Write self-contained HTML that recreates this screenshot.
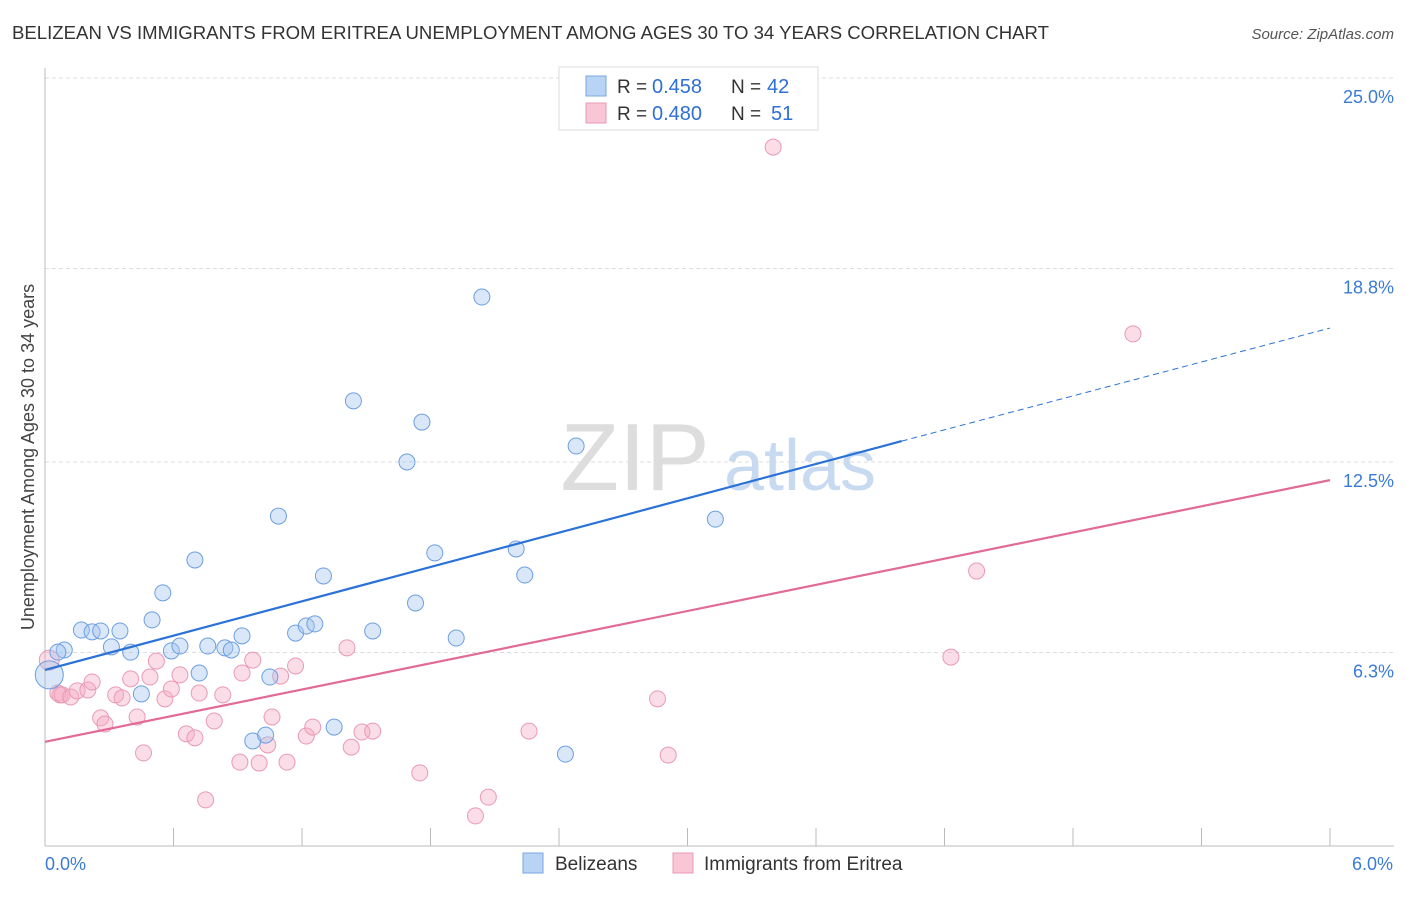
<!DOCTYPE html>
<html><head><meta charset="utf-8"><style>
body{margin:0;background:#fff;font-family:"Liberation Sans",sans-serif;}
svg text{font-family:"Liberation Sans",sans-serif;}
</style></head><body>
<svg id="chart" width="1406" height="892" viewBox="0 0 1406 892" xmlns="http://www.w3.org/2000/svg">
<text x="12" y="39" font-size="18" fill="#333" textLength="1037" lengthAdjust="spacingAndGlyphs">BELIZEAN VS IMMIGRANTS FROM ERITREA UNEMPLOYMENT AMONG AGES 30 TO 34 YEARS CORRELATION CHART</text>
<text x="1394" y="39" font-size="15" fill="#555" text-anchor="end" font-style="italic">Source: ZipAtlas.com</text>
<g id="grid"></g>
<g><text x="635" y="490" font-size="96" fill="#ddd" text-anchor="middle" font-family="Liberation Serif">ZIP</text><text x="800" y="490" font-size="72" fill="#c8daf0" text-anchor="middle">atlas</text></g>
<g id="axes"></g>
<g id="marks"></g>
<text transform="translate(34,457) rotate(-90)" font-size="18" fill="#444" text-anchor="middle">Unemployment Among Ages 30 to 34 years</text>
<g>
<rect x="559" y="67" width="259" height="63" fill="#fff" stroke="#ddd"/>
<rect x="586" y="76" width="20" height="20" fill="#b9d3f5" stroke="#7aa7e2"/>
<text x="617" y="93" font-size="19" fill="#333">R =</text><text x="652" y="93" font-size="20" fill="#2f6fd6">0.458</text>
<text x="731" y="93" font-size="19" fill="#333">N =</text><text x="767" y="93" font-size="20" fill="#2f6fd6">42</text>
<rect x="586" y="103" width="20" height="20" fill="#f8c6d5" stroke="#e99ab4"/>
<text x="617" y="120" font-size="19" fill="#333">R =</text><text x="652" y="120" font-size="20" fill="#2f6fd6">0.480</text>
<text x="731" y="120" font-size="19" fill="#333">N =</text><text x="771" y="120" font-size="20" fill="#2f6fd6">51</text>
</g>
<g>
<rect x="523" y="853" width="20" height="20" fill="#b9d3f5" stroke="#7aa7e2"/>
<text x="555" y="870" font-size="19" fill="#333">Belizeans</text>
<rect x="673" y="853" width="20" height="20" fill="#f8c6d5" stroke="#e99ab4"/>
<text x="704" y="870" font-size="19" fill="#333">Immigrants from Eritrea</text>
</g>
</svg>
<script>
const blueX=[0.02,0.09,0.06,0.17,0.22,0.26,0.35,0.31,0.40,0.45,0.50,0.55,0.59,0.63,0.70,0.72,0.76,0.84,0.87,0.92,0.97,1.03,1.05,1.09,1.17,1.22,1.26,1.30,1.35,1.44,1.53,1.69,1.73,1.76,1.82,1.92,2.04,2.20,2.24,2.43,2.48,3.13];
const blueY=[5.57,6.38,6.31,7.03,6.97,7.00,7.00,6.48,6.31,4.95,7.36,8.24,6.35,6.51,9.31,5.63,6.51,6.45,6.38,6.84,3.42,3.61,5.50,10.74,6.93,7.16,7.23,8.79,3.87,14.49,7.00,12.50,7.91,13.80,9.54,6.77,17.87,9.67,8.82,2.99,13.02,10.64];
const pinkX=[0.02,0.06,0.07,0.08,0.12,0.15,0.20,0.22,0.26,0.28,0.33,0.36,0.40,0.43,0.46,0.49,0.52,0.56,0.59,0.63,0.66,0.70,0.72,0.75,0.79,0.83,0.91,0.92,0.97,1.00,1.04,1.06,1.10,1.13,1.17,1.22,1.25,1.41,1.43,1.48,1.53,1.75,2.01,2.07,2.26,2.86,2.91,3.40,4.23,4.35,5.08];
const pinkY=[6.05,4.98,4.92,4.92,4.85,5.05,5.08,5.34,4.17,3.97,4.92,4.82,5.44,4.20,3.03,5.50,6.02,4.79,5.11,5.57,3.65,3.52,4.98,1.50,4.07,4.92,2.73,5.63,6.05,2.70,3.29,4.20,5.53,2.73,5.86,3.58,3.87,6.45,3.22,3.71,3.74,2.38,0.98,1.59,3.74,4.79,2.96,22.75,6.15,8.95,16.67];
const yTicks=[25.0,18.8,12.5,6.3];
const yTickLabels=["25.0%","18.8%","12.5%","6.3%"];
const blueLine=[5.73,13.18,16.86];
const pinkLine=[3.39,11.91];
const NS="http://www.w3.org/2000/svg";
const X=v=>45+v/6*1285, Y=v=>846-v/6.25*192;
function mk(tag,attrs,parent){const e=document.createElementNS(NS,tag);for(const k in attrs)e.setAttribute(k,attrs[k]);parent.appendChild(e);return e;}
const grid=document.getElementById('grid'),axes=document.getElementById('axes'),marks=document.getElementById('marks');
yTicks.forEach((t,i)=>{
 const l=mk('line',{x1:45,x2:1394,y1:Y(t),y2:Y(t),stroke:'#ddd','stroke-dasharray':'4,3'},grid);
 
 
 const tx=mk('text',{x:1394,y:Y(t)+25,'font-size':18,fill:'#3a7bd5','text-anchor':'end'},axes);
 tx.textContent=yTickLabels[i];
 
 
});
mk('line',{x1:45,x2:45,y1:68,y2:846,stroke:'#bbb'},axes);
mk('line',{x1:45,x2:1394,y1:846,y2:846,stroke:'#bbb'},axes);
for(let i=1;i<=10;i++){mk('line',{x1:X(i*0.6),x2:X(i*0.6),y1:828,y2:846,stroke:'#bbb'},axes);}
const xl=mk('text',{x:45,y:870,'font-size':18,fill:'#3a7bd5'},axes);xl.textContent='0.0%';


const xr=mk('text',{x:1393,y:870,'font-size':18,fill:'#3a7bd5','text-anchor':'end'},axes);xr.textContent='6.0%';


pinkX.forEach((v,i)=>{const c=mk('circle',{cx:X(v),cy:Y(pinkY[i]),r:i==0?10:8,fill:'rgba(244,170,195,0.4)',stroke:'#e99ab4','stroke-width':1},marks);
 
 });
blueX.forEach((v,i)=>{const c=mk('circle',{cx:X(v),cy:Y(blueY[i]),r:i==0?14:8,fill:'rgba(160,195,240,0.4)',stroke:'#6d9fe0','stroke-width':1},marks);
 
 });
const bl=mk('line',{x1:X(0),y1:Y(blueLine[0]),x2:X(4),y2:Y(blueLine[1]),stroke:'#2a72d8','stroke-width':2.2},marks);


const bd=mk('line',{x1:X(4),y1:Y(blueLine[1]),x2:X(6),y2:Y(blueLine[2]),stroke:'#2a72d8','stroke-width':1,'stroke-dasharray':'6,4'},marks);


const pl=mk('line',{x1:X(0),y1:Y(pinkLine[0]),x2:X(6),y2:Y(pinkLine[1]),stroke:'#e26a96','stroke-width':2.2},marks);


</script>
</body></html>
